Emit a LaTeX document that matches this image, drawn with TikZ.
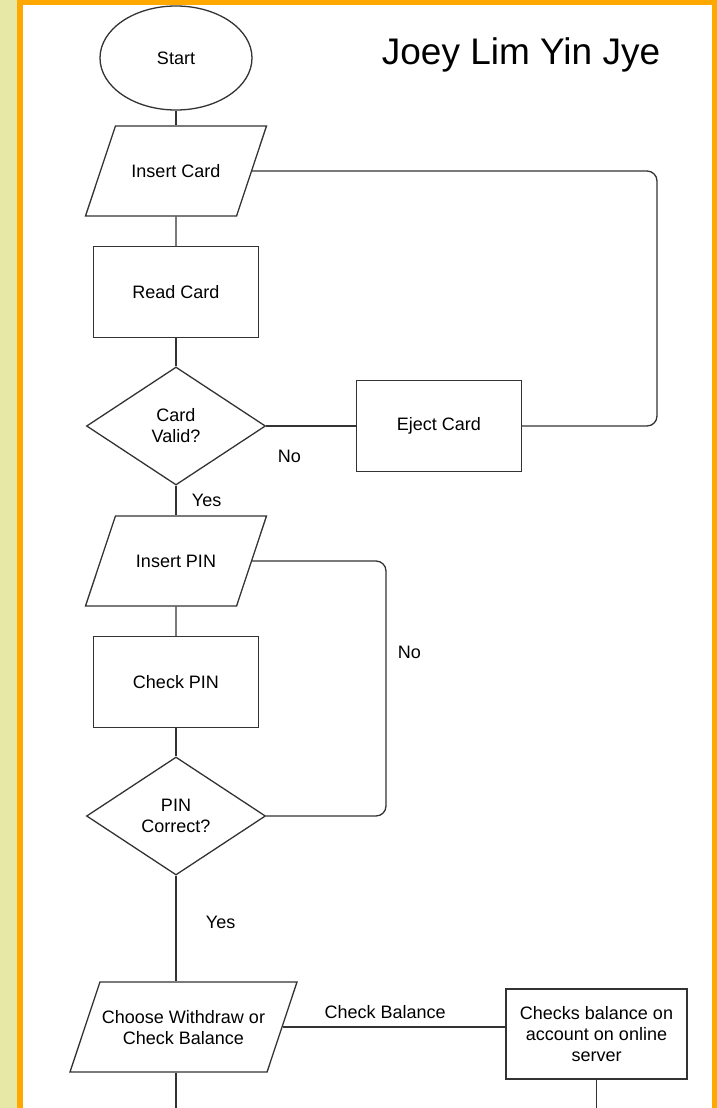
\documentclass[tikz,border=0pt]{standalone}
\usepackage{fontspec}
\setmainfont{Liberation Sans}
\usetikzlibrary{shapes.geometric}
\definecolor{paleyellow}{RGB}{232,232,166}
\definecolor{frameorange}{RGB}{255,168,0}
\definecolor{inkgrey}{RGB}{51,51,51}
\begin{document}
\begin{tikzpicture}[x=1pt, y=-1pt, line width=1.3pt,
    every node/.style={font=\fontsize{18}{21}\selectfont, text=black},
    term/.style={draw=inkgrey, ellipse, minimum width=152pt, minimum height=104pt, inner sep=0pt},
    io/.style={draw=inkgrey, trapezium, trapezium left angle=71.6, trapezium right angle=108.4, trapezium stretches body, inner xsep=0pt, inner ysep=38.5pt, text height=13pt, text depth=0pt, align=center},
    proc/.style={draw=inkgrey, rectangle, minimum width=165pt, minimum height=91pt, align=center},
    dec/.style={draw=inkgrey, diamond, aspect=1.5, minimum width=179pt, minimum height=118pt, inner sep=0pt, align=center},
    link/.style={draw=inkgrey, rounded corners=10pt}]
  \useasboundingbox (0,0) rectangle (717,1108);
  \fill[paleyellow] (0,0) rectangle (717,1108);
  \fill[frameorange] (17,0) rectangle (717,1108);
  \fill[white] (23,5) rectangle (712,1108);

  \node[term] (S) at (176,58) {Start};
  \node[anchor=base, font=\fontsize{37}{44}\selectfont] (T) at (521,65) {Joey Lim Yin Jye};
  \node[io, minimum width=181pt] (IC) at (176,171) {Insert Card};
  \node[proc] (RC) at (176,292) {Read Card};
  \node[dec] (CV) at (176,426) {Card\\Valid?};
  \node[proc, right of=CV, node distance=263pt] (EC) {Eject Card};
  \node[io, minimum width=181pt] (IP) at (176,561) {Insert PIN};
  \node[proc] (CP) at (176,682) {Check PIN};
  \node[dec] (PC) at (176,816) {PIN\\Correct?};
  \node[io, minimum width=227pt, inner ysep=28pt, text height=34pt] (CW) at (183.5,1027) {Choose Withdraw or\\Check Balance};
  \node[proc, minimum width=181pt, minimum height=90pt] (CB) at (596.5,1034) {Checks balance on\\account on online\\server};
  \coordinate (K1) at (657,171);
  \coordinate (K2) at (386,561);
  \coordinate (E1) at (176,1108);
  \coordinate (E2) at (596.5,1108);

  \draw[link] (S) -- (IC);
  \draw[link] (IC) -- (RC);
  \draw[link] (RC) -- (CV);
  \draw[link] (CV) -- node[below, pos=0.26, yshift=-20pt] (N1) {No} (EC);
  \draw[link] (EC) -| (K1) -- (IC);
  \draw[link] (CV) -- node[right, pos=0.5, xshift=12pt] (Y1) {Yes} (IP);
  \draw[link] (IP) -- (CP);
  \draw[link] (CP) -- (PC);
  \draw[link] (PC) -| node[right, pos=0.82, xshift=8pt] (N2) {No} (K2) -- (IP);
  \draw[link] (PC.south) -- node[right, pos=0.44, xshift=26pt] (Y2) {Yes} (PC.south |- CW.north);
  \draw[link] (CW.east) -- node[above, pos=0.46, yshift=4pt] (L1) {Check Balance} (CW.east -| CB.west);
  \draw[link] (CW.south -| E1) -- (E1);
  \draw[link] (CB) -- (E2);
\end{tikzpicture}
\end{document}
